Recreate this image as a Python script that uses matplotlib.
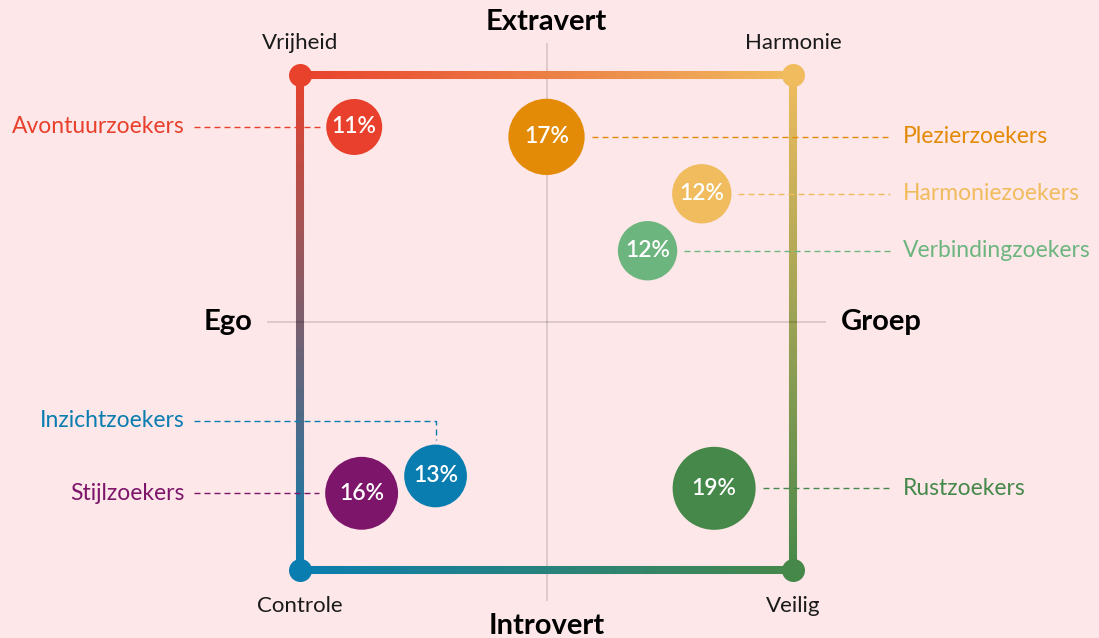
import matplotlib.pyplot as plt
import numpy as np
from matplotlib.collections import LineCollection
from matplotlib.colors import to_rgb

# segments: name, share (%), position on Ego(-1)..Groep(+1), Introvert(-1)..Extravert(+1)
segments = [
    "Avontuurzoekers",
    "Plezierzoekers",
    "Harmoniezoekers",
    "Verbindingzoekers",
    "Inzichtzoekers",
    "Stijlzoekers",
    "Rustzoekers",
]
shares = [11, 17, 12, 12, 13, 16, 19]
x_pos = [-0.78, 0.0, 0.63, 0.41, -0.45, -0.75, 0.68]
y_pos = [0.79, 0.75, 0.52, 0.29, -0.62, -0.69, -0.67]
colors = ["#e8402c", "#e38a06", "#f0bc5e", "#6db57f", "#0a7db0", "#7d166a", "#46884a"]
label_side = ["left", "right", "right", "right", "left", "left", "right"]

corner_labels = ["Vrijheid", "Harmonie", "Controle", "Veilig"]
axis_labels = ["Extravert", "Introvert", "Ego", "Groep"]

BG = "#fde7e9"
FONT = "Lato"

fig = plt.figure(figsize=(10.99, 6.38), dpi=100, facecolor=BG)
ax = fig.add_axes([0, 0, 1, 1])
ax.set_facecolor(BG)
ax.set_xlim(-546.5 / 246.5, (1099 - 546.5) / 246.5)
ax.set_ylim((322.5 - 638) / 247.5, 322.5 / 247.5)
ax.axis("off")

# crosshair
ax.plot([0, 0], [1.125, -1.12], color="black", alpha=0.15, lw=1.2, zorder=1)
ax.plot([-1.13, 1.13], [0, 0], color="black", alpha=0.15, lw=1.2, zorder=3)


def gradient_line(p0, p1, c0, c1, n=200):
    t = np.linspace(0, 1, n + 1)
    xs = p0[0] + (p1[0] - p0[0]) * t
    ys = p0[1] + (p1[1] - p0[1]) * t
    pts = np.column_stack([xs, ys]).reshape(-1, 1, 2)
    segs = np.concatenate([pts[:-1], pts[1:]], axis=1)
    a, b = np.array(to_rgb(c0)), np.array(to_rgb(c1))
    cols = [a + (b - a) * tt for tt in (t[:-1] + 0.5 / n)]
    lc = LineCollection(segs, colors=cols, linewidths=5.8, capstyle="butt", zorder=2)
    ax.add_collection(lc)


c_tl, c_tr, c_bl, c_br = "#e8412c", "#f0bc5e", "#0a7db0", "#46884a"
corners = {"tl": (-1, 1), "tr": (1, 1), "bl": (-1, -1), "br": (1, -1)}
gradient_line(corners["tl"], corners["tr"], c_tl, c_tr)
gradient_line(corners["tr"], corners["br"], c_tr, c_br)
gradient_line(corners["bl"], corners["br"], c_bl, c_br)
gradient_line(corners["tl"], corners["bl"], c_tl, c_bl)
for key, c in zip(["tl", "tr", "bl", "br"], [c_tl, c_tr, c_bl, c_br]):
    ax.scatter(*corners[key], s=(23 * 0.72) ** 2, color=c, zorder=4, linewidths=0)

# corner labels
for lab, (cx, cy) in zip(corner_labels, [(-1, 1), (1, 1), (-1, -1), (1, -1)]):
    yy = cy + (0.13 if cy > 0 else -0.145)
    ax.text(cx, yy, lab, ha="center", va="center", fontsize=16, color="#1a1a1a",
            family=FONT)

# axis labels
bold = dict(fontsize=21, fontweight="bold", family=FONT, color="black")
ax.text(0, 1.215, axis_labels[0], ha="center", va="center", **bold)
ax.text(0, -1.225, axis_labels[1], ha="center", va="center", **bold)
ax.text(-1.29, 0, axis_labels[2], ha="center", va="center", **bold)
ax.text(1.195, 0, axis_labels[3], ha="left", va="center", **bold)

# bubbles
radius_px = [9.4 + 1.69 * s for s in shares]
ax.scatter(x_pos, y_pos, s=[(2 * r * 0.72) ** 2 for r in radius_px], c=colors,
           linewidths=0, zorder=5)
for x, y, s in zip(x_pos, y_pos, shares):
    ax.text(x, y, f"{s}%", ha="center", va="center", color="white", fontsize=16.5,
            fontweight="semibold", family=FONT, zorder=6)

# leader lines and segment labels
px = 1 / 246.5
dash = (4.3, 2.9)
for name, x, y, r, c, side in zip(segments, x_pos, y_pos, radius_px, colors, label_side):
    if name == "Inzichtzoekers":
        ly = (322.5 - 421) / 247.5
        ax.plot([-1.43, x, x], [ly, ly, y + (r + 5) / 247.5], color=c, lw=1,
                dashes=dash, zorder=3)
        ax.text(-1.467, ly, name, ha="right", va="center", color=c, fontsize=16.5,
                family=FONT)
    elif side == "left":
        ax.plot([-1.43, x - (r + 6) * px], [y, y], color=c, lw=1, dashes=dash, zorder=3)
        ax.text(-1.467, y, name, ha="right", va="center", color=c, fontsize=16.5,
                family=FONT)
    else:
        ax.plot([x + (r + 7) * px, 1.394], [y, y], color=c, lw=1, dashes=dash, zorder=3)
        ax.text(1.445, y, name, ha="left", va="center", color=c, fontsize=16.5,
                family=FONT)

fig.savefig("out.png", dpi=100, facecolor=BG)
